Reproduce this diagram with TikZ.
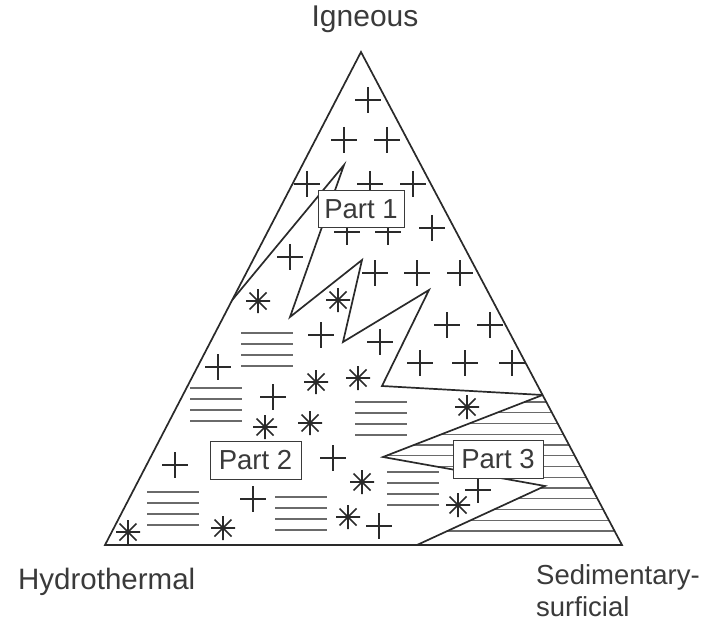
\documentclass[tikz,border=0pt]{standalone}
\usepackage{fontspec}
\setmainfont{Liberation Sans}
\definecolor{ink}{HTML}{2A2A2A}
\definecolor{txt}{HTML}{3A3A3A}
\definecolor{hatch}{HTML}{6A6A6A}
\begin{document}
\begin{tikzpicture}[x=1pt,y=-1pt,
  edge/.style={line width=1.7pt, draw=ink, line join=miter, miter limit=25},
  symline/.style={line width=1.6pt, draw=ink},
  hatchline/.style={line width=1.3pt, draw=hatch},
  partbox/.style={draw=txt, line width=1pt, fill=white, text=txt, inner sep=0pt,
     minimum width=88pt, minimum height=37pt, font=\fontsize{27.5}{30}\selectfont},
  lab/.style={text=txt, inner sep=0pt, font=\fontsize{30}{31}\selectfont},
  plusmark/.pic={\draw[symline] (-13,0)--(13,0) (0,-13)--(0,13);},
  starmark/.pic={\draw[symline] (-12,0)--(12,0) (0,-12)--(0,12)
      (-8.5,-8.5)--(8.5,8.5) (-8.5,8.5)--(8.5,-8.5);},
  stackmark/.pic={\foreach \k in {0,1,2,3}{\draw[hatchline] (0,\k*11)--(52,\k*11);}}
]
\useasboundingbox (0,0) rectangle (721,623);
% corners
\coordinate (A) at (361,52);
\coordinate (L) at (105,545);
\coordinate (R) at (622,545);
% part 1 boundary
\coordinate (p0) at (232.2,300);
\coordinate (p1) at (344,165);
\coordinate (p2) at (290,317);
\coordinate (p3) at (362,260);
\coordinate (p4) at (343,342);
\coordinate (p5) at (429,290);
\coordinate (p6) at (382,386);
\coordinate (p7) at (542.6,395);
% part 3 boundary
\coordinate (q1) at (383,457);
\coordinate (q2) at (545,486);
\coordinate (q3) at (417,545);
% hatching of part 3
\begin{scope}
  \clip (p7) -- (q1) -- (q2) -- (q3) -- (R) -- cycle;
  \foreach \k in {0,...,12}{\draw[hatchline] (370,402+\k*10.75) -- (630,402+\k*10.75);}
\end{scope}
% stacks
\foreach \p in {(241,333),(190,388),(355,402),(147,492),(275,497),(387,472)}
  \pic at \p {stackmark};
% pluses
\foreach \p in {(368,100),(344,140),(387,140),(307,184),(370,184),(413,184),
  (432,228),(347,232),(388,232),(290,257),(375,273),(417,273),(460,273),
  (447,325),(490,325),(420,363),(465,363),(512,363),(321,335),(380,342),
  (218,367),(273,397),(175,465),(333,458),(253,499),(478,490),(379,526)}
  \pic at \p {plusmark};
% asterisks
\foreach \p in {(258,301),(338,300),(316,382),(358,378),(265,427),(310,423),
  (467,407),(128,532),(223,528),(362,482),(348,517),(458,505)}
  \pic at \p {starmark};
% boundaries
\draw[edge] (p0) -- (p1) -- (p2) -- (p3) -- (p4) -- (p5) -- (p6) -- (p7);
\draw[edge] (p7) -- (q1) -- (q2) -- (q3);
\draw[edge] (A) -- (L) -- (R) -- cycle;
% part boxes
\node[partbox, minimum width=86pt] (part1) at (361,209.5) {Part 1};
\node[partbox, minimum width=91pt, minimum height=38pt] (part2) at (255.5,460) {Part 2};
\node[partbox, minimum width=90pt, minimum height=38pt] (part3) at (498,459) {Part 3};
% labels
\node[lab, anchor=base] (ign) at (365,27) {Igneous};
\node[lab, anchor=base west, font=\fontsize{29.5}{31}\selectfont] (hyd) at (18,589) {Hydrothermal};
\node[lab, anchor=base west, align=left, font=\fontsize{27.5}{32}\selectfont] (sed) at (536,616) {Sedimentary-\\surficial};
\end{tikzpicture}
\end{document}
